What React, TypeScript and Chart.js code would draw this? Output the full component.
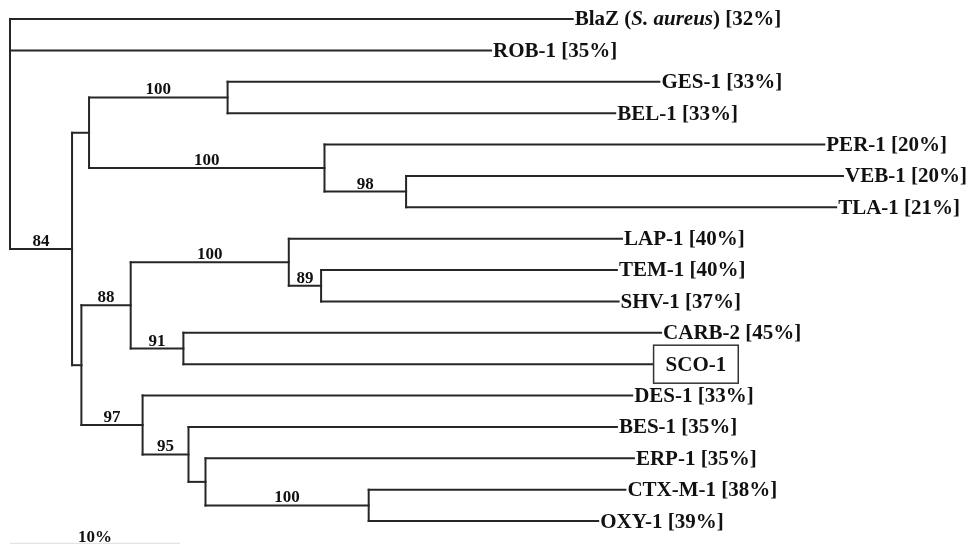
import React, { useEffect, useRef } from 'react';
import { Chart, registerables } from 'chart.js';

Chart.register(...registerables);

// Leaves, top to bottom
const leafNames = ['BlaZ', 'ROB-1', 'GES-1', 'BEL-1', 'PER-1', 'VEB-1', 'TLA-1', 'LAP-1', 'TEM-1', 'SHV-1', 'CARB-2', 'SCO-1', 'DES-1', 'BES-1', 'ERP-1', 'CTX-M-1', 'OXY-1'];
const leafNotes = ['S. aureus', '', '', '', '', '', '', '', '', '', '', '', '', '', '', '', ''];
const leafIdentity = ['32%', '35%', '33%', '33%', '20%', '20%', '21%', '40%', '40%', '37%', '45%', '', '33%', '35%', '35%', '38%', '39%'];
// distance from root, in % divergence
const leafDistance = [33.1, 28.3, 38.2, 35.6, 47.9, 49.0, 48.6, 36.0, 35.7, 35.8, 38.3, 37.8, 36.6, 35.7, 36.7, 36.2, 34.6];
const boxedLeaf = 'SCO-1';

// Internal nodes
const nodeIds = ['root', 'nA', 'nB', 'nC', 'nD', 'nE', 'nF', 'nG', 'nH', 'nI', 'nJ', 'nK', 'nL', 'nM', 'nN'];
const nodeDistance = [0, 3.65, 4.65, 12.8, 18.5, 23.3, 4.2, 7.1, 16.4, 18.3, 10.2, 7.8, 10.5, 11.5, 21.1];
const nodeChildren = [
  ['L0', 'L1', 'nA'],
  ['nB', 'nF'],
  ['nC', 'nD'],
  ['L2', 'L3'],
  ['L4', 'nE'],
  ['L5', 'L6'],
  ['nG', 'nK'],
  ['nH', 'nJ'],
  ['L7', 'nI'],
  ['L8', 'L9'],
  ['L10', 'L11'],
  ['L12', 'nL'],
  ['L13', 'nM'],
  ['L14', 'nN'],
  ['L15', 'L16'],
];
const nodeSupport = [null, 84, null, 100, 100, 98, null, 88, 100, 89, 91, 97, 95, null, 100];

const scaleBarLength = 10;
const scaleBarLabel = '10%';

const LINE_COLOR = '#262626';
const SERIF = '"Liberation Serif", "Times New Roman", serif';

function buildTree() {
  const pos: Record<string, { x: number; y: number }> = {};
  leafNames.forEach((_, i) => {
    pos['L' + i] = { x: leafDistance[i], y: i };
  });
  const idx: Record<string, number> = {};
  nodeIds.forEach((id, i) => (idx[id] = i));
  const getY = (id: string): number => {
    if (pos[id]) return pos[id].y;
    const i = idx[id];
    const ys = nodeChildren[i].map(getY);
    const y = id === 'root' ? ys[0] : ys.reduce((a, b) => a + b, 0) / ys.length;
    pos[id] = { x: nodeDistance[i], y };
    return y;
  };
  getY('root');
  return pos;
}

export default function App() {
  const ref = useRef<HTMLCanvasElement | null>(null);

  useEffect(() => {
    document.body.style.margin = '0';
    const canvas = ref.current;
    if (!canvas) return;
    const pos = buildTree();

    const datasets: any[] = [];
    const seg = (x1: number, y1: number, x2: number, y2: number) => {
      datasets.push({
        data: [
          { x: x1, y: y1 },
          { x: x2, y: y2 },
        ],
        showLine: true,
        borderColor: LINE_COLOR,
        borderWidth: 2,
        borderCapStyle: 'square',
        pointRadius: 0,
        pointHoverRadius: 0,
        fill: false,
      });
    };

    nodeIds.forEach((id, i) => {
      const p = pos[id];
      const ys = nodeChildren[i].map((c) => pos[c].y);
      const ymin = Math.min(...ys, p.y);
      const ymax = Math.max(...ys, p.y);
      seg(p.x, ymin, p.x, ymax);
      nodeChildren[i].forEach((c) => {
        const cp = pos[c];
        seg(p.x, cp.y, cp.x, cp.y);
      });
    });

    const labelPlugin = {
      id: 'treeLabels',
      afterDatasetsDraw(chart: any) {
        const ctx = chart.ctx;
        const xs = chart.scales.x;
        const ysc = chart.scales.y;
        ctx.save();
        ctx.fillStyle = '#111';
        // leaf labels
        leafNames.forEach((name, i) => {
          const px = xs.getPixelForValue(leafDistance[i]);
          const py = ysc.getPixelForValue(i);
          const boxed = name === boxedLeaf;
          const parts: { t: string; it: boolean }[] = [{ t: name, it: false }];
          if (leafNotes[i]) {
            parts.push({ t: ' (', it: false });
            parts.push({ t: leafNotes[i], it: true });
            parts.push({ t: ')', it: false });
          }
          if (leafIdentity[i]) parts.push({ t: ' [' + leafIdentity[i] + ']', it: false });
          let x = boxed ? px + 13 : px + 2;
          ctx.textBaseline = 'middle';
          ctx.textAlign = 'left';
          let total = 0;
          parts.forEach((pt) => {
            ctx.font = (pt.it ? 'italic ' : '') + 'bold 21px ' + SERIF;
            const w = ctx.measureText(pt.t).width;
            ctx.fillText(pt.t, x + total, py + 1);
            total += w;
          });
          if (boxed) {
            ctx.strokeStyle = '#333';
            ctx.lineWidth = 1.5;
            ctx.strokeRect(px + 1, py - 19, total + 24, 38);
          }
        });
        // support values
        ctx.font = 'bold 17px ' + SERIF;
        ctx.textAlign = 'center';
        ctx.textBaseline = 'alphabetic';
        nodeIds.forEach((id, i) => {
          const s = nodeSupport[i];
          if (s == null) return;
          const parentIdx = nodeChildren.findIndex((ch) => ch.includes(id));
          const parent = pos[nodeIds[parentIdx]];
          const p = pos[id];
          const cx = (xs.getPixelForValue(parent.x) + xs.getPixelForValue(p.x)) / 2;
          const cy = ysc.getPixelForValue(p.y) - 3;
          ctx.fillText(String(s), cx, cy);
        });
        // scale bar
        const x0 = xs.getPixelForValue(0);
        const x1 = xs.getPixelForValue(scaleBarLength);
        ctx.fillText(scaleBarLabel, (x0 + x1) / 2, 542);
        ctx.strokeStyle = '#e4e4e4';
        ctx.lineWidth = 1.5;
        ctx.beginPath();
        ctx.moveTo(x0, 543.5);
        ctx.lineTo(x1, 543.5);
        ctx.stroke();
        ctx.restore();
      },
    };

    const chart = new Chart(canvas, {
      type: 'scatter',
      data: { datasets },
      options: {
        animation: false,
        responsive: false,
        maintainAspectRatio: false,
        devicePixelRatio: 1,
        layout: { padding: 0 },
        events: [],
        plugins: { legend: { display: false }, tooltip: { enabled: false } },
        scales: {
          x: { type: 'linear', min: -0.588, max: 56.53, display: false },
          y: { type: 'linear', min: -0.606, max: 16.73, reverse: true, display: false },
        },
      },
      plugins: [labelPlugin],
    } as any);

    return () => chart.destroy();
  }, []);

  return (
    <div style={{ width: 971, height: 544, background: '#fff' }}>
      <canvas ref={ref} width={971} height={544} style={{ display: 'block' }} />
    </div>
  );
}
